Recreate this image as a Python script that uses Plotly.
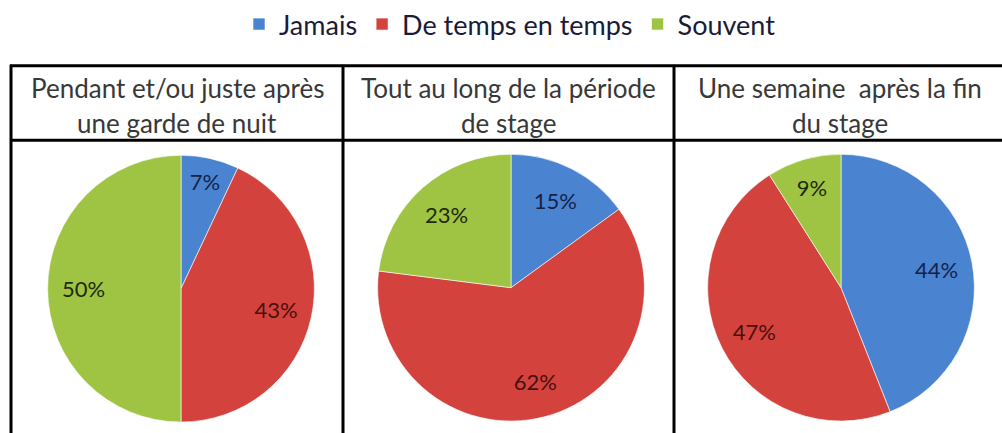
import plotly.graph_objects as go

# ---- data ----
categories = ["Jamais", "De temps en temps", "Souvent"]
pendant_nuit = [7, 43, 50]
periode_stage = [15, 62, 23]
apres_stage = [44, 47, 9]
panel_titles = [
    ["Pendant et/ou juste après", "une garde de nuit"],
    ["Tout au long de la période", "de stage"],
    ["Une semaine  après la fin", "du stage"],
]

# ---- style ----
W, H = 1002, 433
slice_colors = ["#4a84d0", "#d3423d", "#9fc342"]
label_colors = ["#14224a", "#4a0f0f", "#1e2a08"]
FONT = "Lato, Calibri, Carlito, sans-serif"

# table geometry (pixels from top-left)
tbl_left, tbl_top, hdr_bottom = 11, 64, 139
col_edges = [11, 343, 674, 1005]
pie_centers = [(181, 288), (511, 287), (841, 287)]
pie_r = 134


def px_x(x):
    return x / W


def px_y(y):
    return 1 - y / H


fig = go.Figure()
series = [pendant_nuit, periode_stage, apres_stage]
for i, vals in enumerate(series):
    cx, cy = pie_centers[i]
    dom = dict(x=[px_x(cx - pie_r), px_x(cx + pie_r)],
               y=[px_y(cy + pie_r), px_y(cy - pie_r)])
    # the coloured pie
    fig.add_trace(go.Pie(
        labels=categories, values=vals, sort=False,
        direction="clockwise", rotation=0,
        marker=dict(colors=slice_colors,
                    line=dict(color="rgba(255,255,255,0.6)", width=1)),
        textinfo="none", domain=dom,
        showlegend=(i == 0), hoverinfo="label+percent",
    ))
    # transparent ring carrying the percentage labels further out
    fig.add_trace(go.Pie(
        labels=categories, values=vals, sort=False,
        direction="clockwise", rotation=0, hole=0.46,
        marker=dict(colors=["rgba(0,0,0,0)"] * 3, line=dict(width=0)),
        texttemplate="%{value}%", textposition="inside",
        insidetextorientation="horizontal",
        textfont=dict(family=FONT, size=22, color=label_colors),
        domain=dom, showlegend=False, hoverinfo="skip",
    ))

shapes = []
line = dict(color="black", width=3)
for y in (tbl_top, hdr_bottom):
    shapes.append(dict(type="line", xref="paper", yref="paper",
                       x0=px_x(tbl_left - 1), x1=1.0, y0=px_y(y), y1=px_y(y), line=line))
for x in col_edges[:-1]:
    shapes.append(dict(type="line", xref="paper", yref="paper",
                       x0=px_x(x), x1=px_x(x), y0=px_y(tbl_top - 1), y1=0, line=line))

annotations = []
for i, lines in enumerate(panel_titles):
    cx = (col_edges[i] + col_edges[i + 1]) / 2
    for j, txt in enumerate(lines):
        annotations.append(dict(
            text=txt, xref="paper", yref="paper",
            x=px_x(cx), y=px_y(86 + j * 36), xanchor="center", yanchor="middle",
            showarrow=False, font=dict(family=FONT, size=26, color="#383838"),
        ))

fig.update_layout(
    width=W, height=H,
    margin=dict(l=0, r=0, t=0, b=0),
    paper_bgcolor="white", plot_bgcolor="white",
    shapes=shapes, annotations=annotations,
    legend=dict(orientation="h", x=px_x(510), xanchor="center", y=px_y(-2), yanchor="top",
                font=dict(family=FONT, size=27, color="#1b1b38"),
                itemwidth=30, traceorder="normal"),
)

fig.write_html("out.html", config={"displayModeBar": False},
               post_script="document.body.style.margin='0';")
